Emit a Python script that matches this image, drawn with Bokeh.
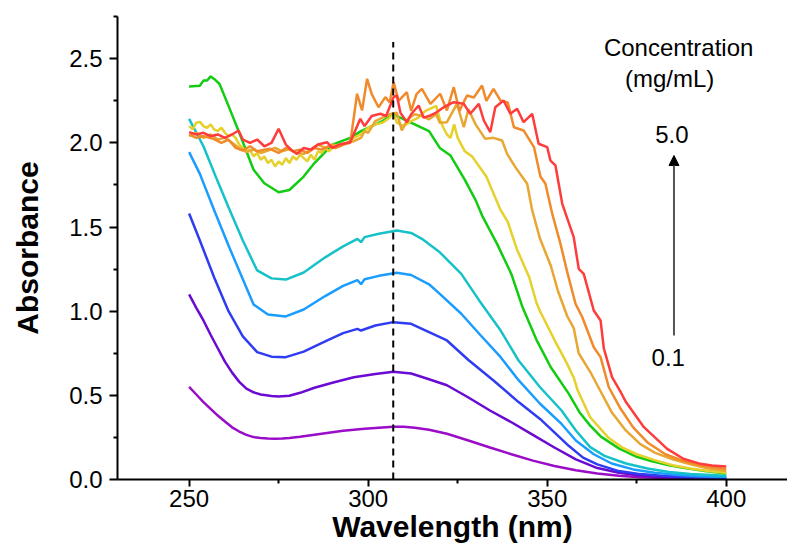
from bokeh.plotting import figure
from bokeh.models import Range1d, Label, Arrow, NormalHead, FixedTicker, CustomJSTickFormatter
from bokeh.embed import file_html
from bokeh.resources import INLINE

# ---------------- data ----------------
wl_c01 = [250, 252, 254, 256, 258, 260, 262, 264, 266, 268, 270, 272, 274, 276, 278, 281, 284, 287,
          290, 293, 296, 299, 302, 305, 307, 310, 313, 317, 322, 328, 334,
          340, 346, 352, 358, 364, 370, 376, 382, 388, 394, 400]
abs_c01 = [0.55, 0.505, 0.46, 0.42, 0.38, 0.345, 0.31, 0.285, 0.265, 0.252, 0.246, 0.243, 0.242,
           0.243, 0.246, 0.254, 0.263, 0.272, 0.281, 0.289, 0.296, 0.301, 0.306, 0.311, 0.314, 0.313,
           0.307, 0.296, 0.272, 0.232, 0.19, 0.15, 0.112, 0.08, 0.055, 0.036, 0.022, 0.014, 0.009,
           0.006, 0.004, 0.003]

wl_c02 = [250, 252, 254, 256, 258, 260, 262, 264, 266, 268, 270, 273, 275, 278, 281, 285, 290, 296,
          302, 307, 312, 317, 322, 328, 334,
          340, 346, 352, 358, 364, 370, 376, 382, 388, 394, 400]
abs_c02 = [1.10, 1.02, 0.945, 0.86, 0.78, 0.70, 0.635, 0.58, 0.54, 0.518, 0.505, 0.496, 0.493, 0.498,
           0.515, 0.545, 0.575, 0.608, 0.627, 0.64, 0.63, 0.596, 0.56, 0.487, 0.41, 0.34, 0.265,
           0.19, 0.12, 0.068, 0.04, 0.024, 0.015, 0.01, 0.007, 0.006]

wl_c03 = [250, 253, 257, 261, 265, 269, 273, 277, 282, 288, 293, 297, 298, 302, 307, 312, 317, 322,
          328, 335, 342, 348, 352, 356, 360, 364, 370, 376, 382, 388, 394, 400]
abs_c03 = [1.58, 1.42, 1.20, 1.00, 0.85, 0.757, 0.73, 0.727, 0.76, 0.82, 0.87, 0.895, 0.885, 0.915,
           0.935, 0.925, 0.875, 0.826, 0.71, 0.588, 0.46, 0.36, 0.28, 0.20, 0.13, 0.09, 0.05, 0.032,
           0.022, 0.015, 0.012, 0.01]

wl_c04 = [250, 253, 257, 261, 265, 268, 272, 277, 282, 288, 293, 297, 298, 299, 303, 308, 312, 317,
          320, 326, 331, 337, 342, 348, 354, 358, 363, 368, 374, 380, 386, 392, 400]
abs_c04 = [1.945, 1.816, 1.60, 1.39, 1.19, 1.04, 0.98, 0.969, 1.01, 1.09, 1.15, 1.185, 1.16, 1.19,
           1.21, 1.228, 1.215, 1.16, 1.103, 0.985, 0.866, 0.727, 0.59, 0.45, 0.33, 0.232, 0.15, 0.095,
           0.06, 0.04, 0.028, 0.02, 0.015]

wl_c05 = [250, 254, 258, 261, 265, 269, 273, 277, 282, 288, 293, 297, 298, 299, 303, 308, 312, 315,
          320, 326, 331, 337, 342, 348, 354, 358, 362, 366, 372, 378, 384, 390, 400]
abs_c05 = [2.143, 1.98, 1.77, 1.618, 1.42, 1.242, 1.195, 1.188, 1.23, 1.32, 1.385, 1.43, 1.41, 1.44,
           1.46, 1.479, 1.465, 1.43, 1.35, 1.222, 1.064, 0.885, 0.707, 0.548, 0.41, 0.291, 0.192, 0.14,
           0.095, 0.065, 0.045, 0.032, 0.022]

wl_c06 = [250, 253, 254, 255, 256, 257, 258.5, 261, 264, 268, 271, 275, 278, 282, 285, 290, 295, 298,
          301, 304, 307, 310, 314, 317, 320, 323, 327, 330, 332, 336, 340, 343, 347, 351, 356, 359,
          362, 365, 370, 375, 379, 384, 388, 394, 400]
abs_c06 = [2.335, 2.34, 2.37, 2.37, 2.395, 2.38, 2.35, 2.22, 2.06, 1.84, 1.76, 1.707, 1.72, 1.80,
           1.88, 1.99, 2.03, 2.07, 2.10, 2.13, 2.17, 2.14, 2.10, 2.07, 1.97, 1.925, 1.78, 1.66, 1.56,
           1.40, 1.22, 1.03, 0.83, 0.667, 0.51, 0.40, 0.32, 0.255, 0.185, 0.135, 0.11, 0.085, 0.069,
           0.05, 0.035]

wl_c07 = [250, 251, 252, 253, 254, 255, 256, 257, 258, 259, 260, 261, 262, 263, 264, 265, 266, 267,
          268, 269, 270, 271, 272, 273, 274, 275, 276, 277, 278, 279, 280, 281, 282, 283, 284, 285,
          286, 287, 288, 289, 290, 292, 294, 296, 298, 300, 302, 304, 306, 307, 308, 310, 312, 314,
          316, 318, 319, 320, 321, 322, 323, 324, 325, 327, 329, 331, 333, 335, 337, 339, 341.5, 345,
          347, 348, 352, 355.5, 357.5, 358.5, 362, 367, 371, 375, 380, 385, 390, 395, 400]
abs_c07 = [2.10, 2.08, 2.12, 2.125, 2.10, 2.09, 2.11, 2.08, 2.07, 2.09, 2.06, 2.04, 2.05, 2.03, 1.99,
           1.97, 1.95, 1.96, 1.92, 1.94, 1.90, 1.92, 1.88, 1.90, 1.86, 1.89, 1.87, 1.91, 1.88, 1.92,
           1.90, 1.93, 1.91, 1.89, 1.93, 1.90, 1.95, 1.94, 1.97, 1.95, 1.97, 1.99, 2.00, 2.03, 2.05,
           2.09, 2.11, 2.12, 2.15, 2.18, 2.12, 2.10, 2.13, 2.15, 2.19, 2.21, 2.22, 2.14, 2.09, 2.05,
           2.03, 2.11, 2.03, 1.95, 1.92, 1.86, 1.80, 1.70, 1.60, 1.53, 1.37, 1.20, 1.05, 1.00, 0.83,
           0.69, 0.60, 0.53, 0.37, 0.25, 0.19, 0.15, 0.115, 0.085, 0.065, 0.05, 0.04]

wl_c08 = [250, 252, 254, 256, 258, 260, 262, 264, 266, 268, 270, 272, 274, 276, 278, 280, 282, 284,
          286, 288, 290, 292, 294, 296, 298, 299, 300, 302, 304, 306, 308, 309.4, 311, 313, 315, 317,
          319, 320, 322, 324.8, 326.7, 328, 330, 332.7, 335, 337.4, 338.8, 341.1, 344.4, 345.8, 348,
          351, 353, 355.6, 357.4, 358.8, 362, 365, 368, 372, 376, 380, 385, 390, 395, 400]
abs_c08 = [2.04, 2.06, 2.03, 2.05, 2.02, 2.03, 2.00, 1.97, 1.945, 1.96, 1.94, 1.955, 1.97, 1.95,
           1.965, 1.94, 1.935, 1.96, 1.99, 1.97, 1.99, 1.98, 2.00, 2.01, 2.03, 2.07, 2.06, 2.13, 2.15,
           2.17, 2.18, 2.074, 2.14, 2.17, 2.16, 2.14, 2.17, 2.12, 2.123, 2.232, 2.093, 2.20, 2.11,
           2.024, 2.03, 2.014, 1.935, 1.856, 1.757, 1.60, 1.43, 1.27, 1.12, 0.97, 0.90, 0.75, 0.64,
           0.52, 0.40, 0.29, 0.21, 0.16, 0.12, 0.09, 0.065, 0.05]

wl_c09 = [250, 252, 254, 256.8, 259, 261, 263, 265, 267, 269, 271, 272.6, 275, 277, 279, 281, 283,
          285, 287, 289, 291, 293, 295, 296.9, 298.3, 299.7, 301, 302.9, 304.8, 306, 307.1, 308.5,
          310.8, 312, 313.5, 315, 317.4, 320.1, 322, 323.9, 325.5, 327.6, 329.5, 331.8, 333, 335, 337,
          339, 340.7, 343.4, 346.3, 348.1, 349.5, 351.4, 353.7, 355.6, 357.9, 359.8, 363, 364.9,
          367.2, 370.5, 374, 378, 383, 388, 394, 400]
abs_c09 = [2.05, 2.03, 2.04, 2.024, 2.00, 2.02, 1.97, 1.955, 1.98, 1.95, 1.96, 1.965, 1.94, 1.97,
           1.95, 1.96, 1.94, 1.97, 1.96, 1.98, 1.97, 1.99, 2.00, 2.292, 2.193, 2.381, 2.29, 2.212,
           2.272, 2.24, 2.361, 2.25, 2.301, 2.19, 2.29, 2.321, 2.232, 2.292, 2.193, 2.331, 2.19, 2.282,
           2.27, 2.341, 2.25, 2.321, 2.25, 2.24, 2.093, 2.074, 1.975, 1.80, 1.757, 1.579, 1.40, 1.232,
           1.044, 0.964, 0.786, 0.727, 0.548, 0.42, 0.31, 0.22, 0.15, 0.11, 0.08, 0.062]

wl_c10 = [250, 252, 254, 256, 258, 260, 262, 263.8, 265, 267, 269, 271, 273, 275, 277, 279, 280.1,
          282, 284, 286, 288.5, 290, 292, 295, 297.8, 299, 301, 303.4, 305, 307.1, 308, 309, 310.8,
          312, 314.1, 315.5, 317.4, 319, 321.1, 323.9, 326.7, 328.5, 330.9, 332.3, 334.1, 335.5,
          337.8, 339.7, 341.6, 343.4, 345.8, 347.6, 350, 350.9, 352.3, 354.2, 357.4, 358.8, 360.2,
          363, 364.9, 365.8, 368.1, 370.5, 372, 377, 383.5, 388, 392.8, 396, 400]
abs_c10 = [2.064, 2.05, 2.06, 2.04, 2.05, 2.03, 2.05, 2.074, 2.02, 2.00, 2.02, 1.98, 2.00, 2.084,
           1.99, 1.95, 1.935, 1.97, 1.96, 1.99, 2.004, 1.97, 1.99, 2.004, 2.143, 2.10, 2.16, 2.173,
           2.16, 2.272, 2.282, 2.18, 2.123, 2.17, 2.222, 2.15, 2.163, 2.18, 2.212, 2.242, 2.232,
           2.173, 2.232, 2.133, 2.064, 2.212, 2.252, 2.173, 2.203, 2.123, 2.173, 1.995, 1.975, 1.895,
           1.866, 1.638, 1.44, 1.252, 1.222, 1.004, 0.945, 0.78, 0.608, 0.52, 0.46, 0.311, 0.182,
           0.123, 0.093, 0.083, 0.077]

series_wl = [wl_c01, wl_c02, wl_c03, wl_c04, wl_c05, wl_c06, wl_c07, wl_c08, wl_c09, wl_c10]
series_abs = [abs_c01, abs_c02, abs_c03, abs_c04, abs_c05, abs_c06, abs_c07, abs_c08, abs_c09, abs_c10]
series_colors = ["#9a0cc8", "#6a0ad2", "#2f3cf2", "#1a9dff", "#16c2c8",
                 "#12cc12", "#e6d02c", "#e8a632", "#f08a2a", "#ff3c3c"]

x_ticks = [250, 300, 350, 400]
x_minor = [275, 325, 375]
y_ticks = [0.0, 0.5, 1.0, 1.5, 2.0, 2.5]
y_minor = [0.25, 0.75, 1.25, 1.75, 2.25, 2.75]

peak_wl = 307
peak_line_top = 2.6

legend_title = ["Concentration", "(mg/mL)"]
conc_high = "5.0"
conc_low = "0.1"

# ---------------- figure ----------------
FONT = "Liberation Sans"

p = figure(width=787, height=553, output_backend="svg", toolbar_location=None,
           x_range=Range1d(230, 417.1), y_range=Range1d(0, 2.751))
p.min_border_left = 117
p.min_border_right = 0
p.min_border_top = 16
p.min_border_bottom = 74
p.outline_line_color = None
p.xgrid.grid_line_color = None
p.ygrid.grid_line_color = None
p.background_fill_color = "white"
p.border_fill_color = "white"

for ax in (p.xaxis[0], p.yaxis[0]):
    ax.axis_line_width = 2
    ax.axis_line_color = "black"
    ax.major_tick_line_width = 2
    ax.minor_tick_line_width = 2
    ax.major_tick_line_color = "black"
    ax.minor_tick_line_color = "black"
    ax.major_tick_in = 0
    ax.minor_tick_in = 0
    ax.major_label_text_font = FONT
    ax.major_label_text_font_size = "24px"
    ax.major_label_text_color = "black"
    ax.axis_label_text_font = FONT
    ax.axis_label_text_font_size = "30px"
    ax.axis_label_text_font_style = "bold"
    ax.axis_label_text_color = "black"

p.xaxis.ticker = FixedTicker(ticks=x_ticks, minor_ticks=x_minor)
p.yaxis.ticker = FixedTicker(ticks=y_ticks, minor_ticks=y_minor)
p.xaxis.major_tick_out = 7
p.xaxis.minor_tick_out = 4
p.yaxis.major_tick_out = 8
p.yaxis.minor_tick_out = 4
p.xaxis.major_label_standoff = 3
p.yaxis.major_label_standoff = 7
p.xaxis.axis_label = "Wavelength (nm)"
p.yaxis.axis_label = "Absorbance"
p.xaxis.axis_label_standoff = 0
p.yaxis.axis_label_standoff = 22
p.yaxis.formatter = CustomJSTickFormatter(code="return tick.toFixed(1);")

for wl, ab, col in zip(series_wl, series_abs, series_colors):
    p.line(wl, ab, line_color=col, line_width=2.5)

p.line([peak_wl, peak_wl], [0, peak_line_top], line_color="black", line_width=2,
       line_dash="7 5")

for txt, lx, ly in [(legend_title[0], 386.7, 2.567), (legend_title[1], 384.2, 2.383),
                    (conc_high, 384.8, 2.05), (conc_low, 383.8, 0.725)]:
    p.add_layout(Label(x=lx, y=ly, text=txt, text_font=FONT, text_color="black",
                       text_font_size="24px", text_align="center", text_baseline="middle"))
p.add_layout(Arrow(x_start=385.4, y_start=0.856, x_end=385.4, y_end=1.925,
                   line_color="#555555", line_width=2,
                   end=NormalHead(size=10, fill_color="black", line_color="black")))

open("out.html", "w").write(file_html(p, INLINE))
